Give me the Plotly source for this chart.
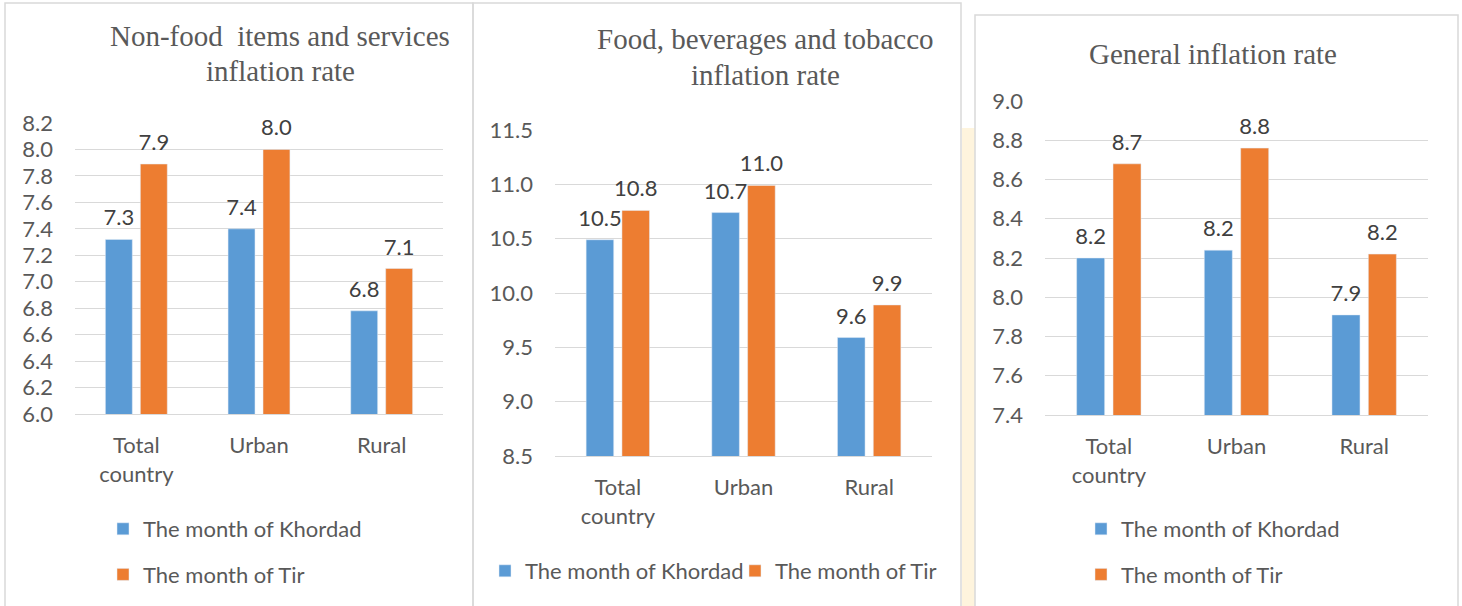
import plotly.graph_objects as go

W, H = 1462, 606

categories = ["Total<br>country", "Urban", "Rural"]
series_names = ["The month of Khordad", "The month of Tir"]

nonfood_khordad = [7.32, 7.40, 6.78]
nonfood_tir = [7.89, 8.00, 7.10]

food_khordad = [10.49, 10.74, 9.59]
food_tir = [10.76, 10.99, 9.89]

general_khordad = [8.20, 8.24, 7.91]
general_tir = [8.68, 8.76, 8.22]

title_lines = [["Non-food  items and services", "inflation rate"],
               ["Food, beverages and tobacco", "inflation rate"],
               ["General inflation rate"]]

BLUE = "#5B9BD5"
ORANGE = "#ED7D31"
GRID = "#D9D9D9"
TXT = "#595959"
LBL = "#404040"
SANS = "Lato, 'Noto Sans', sans-serif"
SERIF = "'Liberation Serif', 'Times New Roman', serif"
FS = 22
BARGAP = 0.43


def px_x(v):
    return v / W


def px_y(v):
    return 1 - v / H


fig = go.Figure()

panels = [
    dict(k=nonfood_khordad, t=nonfood_tir, xa="x", ya="y", leg="legend"),
    dict(k=food_khordad, t=food_tir, xa="x2", ya="y2", leg="legend2"),
    dict(k=general_khordad, t=general_tir, xa="x3", ya="y3", leg="legend3"),
]

for i, p in enumerate(panels):
    for j, (name, vals, col) in enumerate([(series_names[0], p["k"], BLUE), (series_names[1], p["t"], ORANGE)]):
        fig.add_trace(go.Bar(
            x=categories, y=vals, name=name, marker_color=col,
            xaxis=p["xa"], yaxis=p["ya"], legend=p["leg"],
            legendgroup=f"{p['leg']}_{name}", offsetgroup=f"g{j}", alignmentgroup=f"a{i}",
            hoverinfo="skip",
        ))
    for j, vals in enumerate([p["k"], p["t"]]):
        fig.add_trace(go.Scatter(
            x=categories, y=vals, mode="markers+text",
            marker=dict(size=12, opacity=0),
            texttemplate="%{y:.1f}", textposition="top center",
            textfont=dict(family=SANS, size=FS, color=LBL),
            xaxis=p["xa"], yaxis=p["ya"], showlegend=False,
            offsetgroup=f"g{j}", alignmentgroup=f"a{i}",
            cliponaxis=False, hoverinfo="skip",
        ))

xaxis_common = dict(type="category", showgrid=False, showline=True, linecolor=GRID,
                    linewidth=1, ticks="", tickfont=dict(family=SANS, size=FS, color=TXT),
                    ticklabelstandoff=12, fixedrange=True)
yaxis_common = dict(showgrid=True, gridcolor=GRID, gridwidth=1, zeroline=False, showline=False,
                    ticks="", tickformat=".1f", tickfont=dict(family=SANS, size=FS, color=TXT),
                    ticklabelstandoff=21, fixedrange=True)

legend_font = dict(family=SANS, size=FS, color=TXT)

fig.update_layout(
    xaxis=dict(xaxis_common, domain=[px_x(75), px_x(443)], anchor="y"),
    yaxis=dict(yaxis_common, domain=[px_y(414), px_y(123)], range=[6.0, 8.2001], dtick=0.2, tick0=6.0, anchor="x"),
    xaxis2=dict(xaxis_common, domain=[px_x(555), px_x(932)], anchor="y2"),
    yaxis2=dict(yaxis_common, domain=[px_y(456), px_y(130)], range=[8.5, 11.5001], dtick=0.5, tick0=8.5, anchor="x2"),
    xaxis3=dict(xaxis_common, domain=[px_x(1045), px_x(1428)], anchor="y3"),
    yaxis3=dict(yaxis_common, domain=[px_y(415), px_y(101)], range=[7.4, 9.0001], dtick=0.2, tick0=7.4, anchor="x3"),
    barmode="group", bargap=BARGAP, bargroupgap=0.23,
    scattermode="group", scattergap=BARGAP,
    width=W, height=H, margin=dict(l=0, r=0, t=0, b=0, autoexpand=False),
    paper_bgcolor="white", plot_bgcolor="rgba(0,0,0,0)",
    font=dict(family=SANS, color=TXT),
    legend=dict(x=103 / W, y=1 - 508 / H, xref="container", yref="container",
                xanchor="left", yanchor="top", orientation="v",
                font=legend_font, tracegroupgap=14, bgcolor="rgba(0,0,0,0)"),
    legend2=dict(x=485 / W, y=1 - 550 / H, xref="container", yref="container",
                 xanchor="left", yanchor="top", orientation="h", entrywidth=205,
                 font=legend_font, bgcolor="rgba(0,0,0,0)"),
    legend3=dict(x=1081 / W, y=1 - 508 / H, xref="container", yref="container",
                 xanchor="left", yanchor="top", orientation="v",
                 font=legend_font, tracegroupgap=14, bgcolor="rgba(0,0,0,0)"),
)

shapes = [
    dict(type="rect", xref="paper", yref="paper", x0=px_x(962), x1=px_x(975), y0=px_y(620), y1=px_y(128),
         fillcolor="#FEF4DD", line=dict(width=0), layer="below"),
    dict(type="rect", xref="paper", yref="paper", x0=px_x(5), x1=px_x(473), y0=px_y(620), y1=px_y(3),
         line=dict(color=GRID, width=1.5), fillcolor="rgba(0,0,0,0)", layer="below"),
    dict(type="rect", xref="paper", yref="paper", x0=px_x(473), x1=px_x(961), y0=px_y(620), y1=px_y(3),
         line=dict(color=GRID, width=1.5), fillcolor="rgba(0,0,0,0)", layer="below"),
    dict(type="rect", xref="paper", yref="paper", x0=px_x(975), x1=px_x(1458), y0=px_y(620), y1=px_y(15),
         line=dict(color=GRID, width=1.5), fillcolor="white", layer="below"),
]
fig.update_layout(shapes=shapes)

title_pos = [(280, [36, 71]), (766, [39, 75]), (1213, [54])]
for lines, (cx, cys) in zip(title_lines, title_pos):
    for txt, cy in zip(lines, cys):
        fig.add_annotation(text=txt, xref="paper", yref="paper", x=px_x(cx), y=px_y(cy),
                           xanchor="center", yanchor="middle", showarrow=False, align="center",
                           font=dict(family=SERIF, size=29, color=TXT))

fig.write_html("out.html", config={"displayModeBar": False},
               post_script="document.body.style.margin='0px';")
